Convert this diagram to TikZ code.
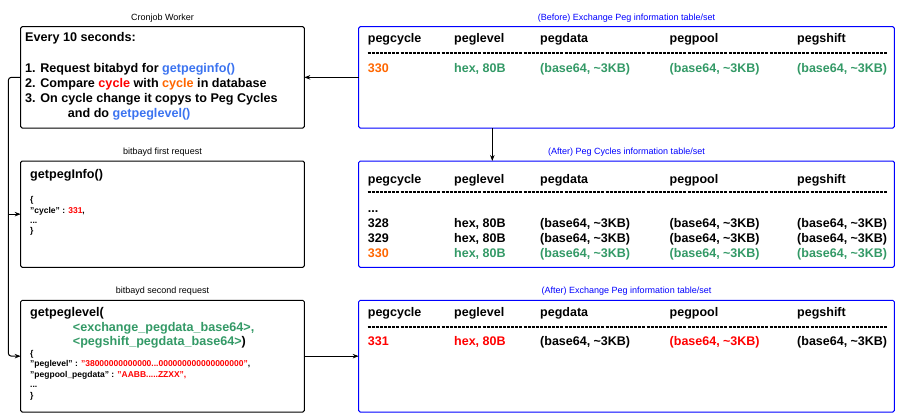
\documentclass[tikz,border=0pt]{standalone}
\usepackage{fontspec}
\setmainfont{Liberation Sans}
\usetikzlibrary{positioning,arrows.meta}
\definecolor{pegblue}{HTML}{0000FF}
\definecolor{fnblue}{HTML}{3B73F0}
\definecolor{pegred}{HTML}{FF0000}
\definecolor{pegorange}{HTML}{FF6600}
\definecolor{peggreen}{HTML}{339966}
\newcommand\bsf{(base64, \textasciitilde3KB)}

\begin{document}
\begin{tikzpicture}[x=1pt, y=-1pt, node distance=33pt and 54.4pt,
  wbox/.style={draw, rounded corners=1.5pt, line width=1pt, inner sep=0pt, outer sep=0pt, minimum width=283.6pt},
  tbox/.style={wbox, draw=pegblue, minimum width=535.6pt},
  captxt/.style={inner sep=0pt, font=\fontsize{9}{10}\selectfont},
  big/.style={anchor=base west, inner sep=0pt, font=\bfseries\fontsize{12.6}{15}\selectfont},
  cell/.style={anchor=base west, inner sep=0pt, font=\bfseries\fontsize{12.5}{15}\selectfont},
  json/.style={anchor=base west, inner sep=0pt, font=\bfseries\fontsize{8.5}{10}\selectfont},
  rule/.style={dash pattern=on 3pt off 1.1pt, line width=1.3pt},
  arr/.style={-{Stealth[length=6pt,width=4.5pt]}, line width=1pt}]
\useasboundingbox (0,0) rectangle (900,418);

% boxes
\node (cron) [wbox, minimum height=101.3pt, anchor=north west] at (20.7,26.7) {};
\node (before) [tbox, minimum height=101.3pt, right=of cron] {};
\node (first) [wbox, minimum height=106.3pt, below=of cron] {};
\node (cycles) [tbox, minimum height=106.3pt, below=of before] {};
\node (second) [wbox, minimum height=111.7pt, below=of first] {};
\node (afterx) [tbox, minimum height=111.7pt, below=of cycles] {};

% titles
\node (cronT) [captxt, above=4.5pt of cron] {Cronjob Worker};
\node (firstT) [captxt, above=4.5pt of first] {bitbayd first request};
\node (secondT) [captxt, above=4.5pt of second] {bitbayd second request};
\node (beforeT) [captxt, text=pegblue, above=4.5pt of before] {(Before) Exchange Peg information table/set};
\node (cyclesT) [captxt, text=pegblue, above=4.5pt of cycles] {(After) Peg Cycles information table/set};
\node (afterxT) [captxt, text=pegblue, above=4.5pt of afterx] {(After) Exchange Peg information table/set};

% cronjob worker
\node (every) [big] at ([shift={(4.3,14.8)}]cron.north west) {Every 10 seconds:};
\node (req) [big] at ([shift={(4.3,45.8)}]cron.north west) {1. Request bitabyd for \textcolor{fnblue}{getpeginfo()}};
\node (cmp) [big] at ([shift={(4.3,60.8)}]cron.north west) {2. Compare \textcolor{pegred}{cycle} with \textcolor{pegorange}{cycle} in database};
\node (copy) [big] at ([shift={(4.3,75.8)}]cron.north west) {3. On cycle change it copys to Peg Cycles};
\node (doit) [big] at ([shift={(47,90.8)}]cron.north west) {and do \textcolor{fnblue}{getpeglevel()}};

% first request
\node (infoF) [big] at ([shift={(9.3,17.1)}]first.north west) {getpegInfo()};
\node (infoA) [json] at ([shift={(9.3,41.8)}]first.north west) {\{};
\node (infoB) [json] at ([shift={(9.3,52.1)}]first.north west) {"cycle" : \textcolor{pegred}{331},};
\node (infoC) [json] at ([shift={(9.3,62.4)}]first.north west) {...};
\node (infoD) [json] at ([shift={(9.3,72.7)}]first.north west) {\}};

% second request
\node (levelF) [big] at ([shift={(9.3,16.2)}]second.north west) {getpeglevel(};
\node (argA) [big, text=peggreen] at ([shift={(52,31.2)}]second.north west) {<exchange\_pegdata\_base64>,};
\node (argB) [big] at ([shift={(52,45.5)}]second.north west) {\textcolor{peggreen}{<pegshift\_pegdata\_base64>})};
\node (levelA) [json] at ([shift={(9.3,55.8)}]second.north west) {\{};
\node (levelB) [json] at ([shift={(9.3,66.3)}]second.north west) {"peglevel" : \textcolor{pegred}{"38000000000000...000000000000000000"},};
\node (levelC) [json] at ([shift={(9.3,76.8)}]second.north west) {"pegpool\_pegdata" : \textcolor{pegred}{"AABB.....ZZXX",}};
\node (levelD) [json] at ([shift={(9.3,87.3)}]second.north west) {...};
\node (levelE) [json] at ([shift={(9.3,97.8)}]second.north west) {\}};

% table heads and rules
\foreach \tb/\hy/\ry in {before/15.8/26.3, cycles/22.1/31, afterx/16.2/26.7} {
  \foreach \cx/\hd in {9/pegcycle, 95.3/peglevel, 181.3/pegdata, 310.8/pegpool, 438.3/pegshift}
    \node (\tb-\hd) [cell] at ([shift={(\cx,\hy)}]\tb.north west) {\hd};
  \draw[rule] ([shift={(9,\ry)}]\tb.north west) -- ([shift={(528,\ry)}]\tb.north west);
}

% before table
\node (before-330) [cell, text=pegorange] at ([shift={(9,45.8)}]before.north west) {330};
\foreach \cx/\txt [count=\i] in {95.3/{hex, 80B}, 181.3/\bsf, 310.8/\bsf, 438.3/\bsf}
  \node (before-c\i) [cell, text=peggreen] at ([shift={(\cx,45.8)}]before.north west) {\txt};

% peg cycles table
\node (cycles-dots) [cell] at ([shift={(9,51.5)}]cycles.north west) {...};
\foreach \ry/\cyc in {66.5/328, 81.5/329} {
  \node (cycles-\cyc) [cell] at ([shift={(9,\ry)}]cycles.north west) {\cyc};
  \foreach \cx/\txt [count=\i] in {95.3/{hex, 80B}, 181.3/\bsf, 310.8/\bsf, 438.3/\bsf}
    \node (cycles-\cyc-\i) [cell] at ([shift={(\cx,\ry)}]cycles.north west) {\txt};
}
\node (cycles-330) [cell, text=pegorange] at ([shift={(9,96.5)}]cycles.north west) {330};
\foreach \cx/\txt [count=\i] in {95.3/{hex, 80B}, 181.3/\bsf, 310.8/\bsf, 438.3/\bsf}
  \node (cycles-330-\i) [cell, text=peggreen] at ([shift={(\cx,96.5)}]cycles.north west) {\txt};

% after exchange table
\node (afterx-331) [cell, text=pegred] at ([shift={(9,45.5)}]afterx.north west) {331};
\node (afterx-hex) [cell, text=pegred] at ([shift={(95.3,45.5)}]afterx.north west) {hex, 80B};
\node (afterx-data) [cell] at ([shift={(181.3,45.5)}]afterx.north west) {\bsf};
\node (afterx-pool) [cell, text=pegred] at ([shift={(310.8,45.5)}]afterx.north west) {\bsf};
\node (afterx-shift) [cell] at ([shift={(438.3,45.5)}]afterx.north west) {\bsf};

% connectors
\coordinate [left=12.4pt of first.west] (split);
\draw[arr] (before) -- (cron);
\draw[arr] ([xshift=-134.2pt]before.south) -- ([xshift=-134.2pt]cycles.north);
\draw[arr] (second) -- (afterx);
\draw[arr, rounded corners=3pt] (cron.west) -| (split) |- (second.west);
\draw[arr] (split) -- (first.west);
\end{tikzpicture}
\end{document}
